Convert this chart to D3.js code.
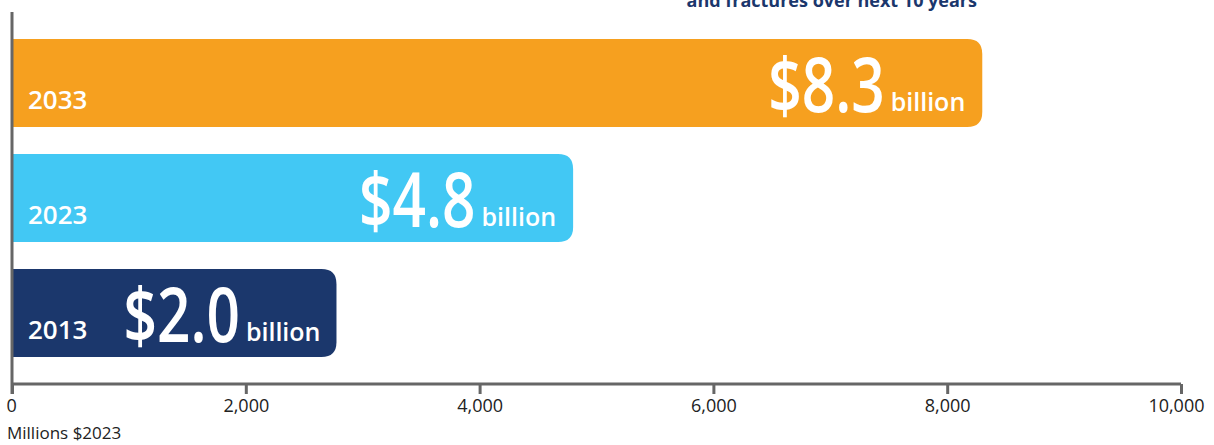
<!DOCTYPE html>
<html lang="en">
<head>
<meta charset="utf-8">
<title>Costs of osteoporosis</title>
<script src="https://cdn.jsdelivr.net/npm/d3@7/dist/d3.min.js"></script>
<style>
    html, body { margin: 0; padding: 0; background: #fff; }
    svg { display: block; font-family: "Open Sans", "Noto Sans", sans-serif; }
</style>
</head>
<body>
<svg id="chart" width="1214" height="445"></svg>
<script>
    // data
    var years = ["2033", "2023", "2013"];
    var costs = [8300, 4800, 2000];          // millions $2023
    var costLabels = ["$8.3", "$4.8", "$2.0"];
    var barColors = ["#F6A01F", "#42C8F4", "#1B376C"];
    var xTicks = [0, 2000, 4000, 6000, 8000, 10000];
    var titleLine = "and fractures over next 10 years";
    var axisTitle = "Millions $2023";

    var svg = d3.select("#chart");
    var navy = "#1B376C";

    var x = d3.scaleLinear().domain([0, 10000]).range([12, 1181]);
    var y = d3.scaleBand().domain(years).range([39, 357]).paddingInner(0.235).paddingOuter(0);

    // title (cut off at the top of the frame, as in the source)
    svg.append("text")
        .attr("x", 977).attr("y", 7)
        .attr("text-anchor", "end")
        .attr("fill", navy)
        .style("font-weight", 700)
        .style("font-size", "18px")
        .text(titleLine);

    // bar with rounded right end
    function barPath(x0, x1, y0, h, r) {
        return "M" + x0 + "," + y0 +
            "H" + (x1 - r) +
            "Q" + x1 + "," + y0 + " " + x1 + "," + (y0 + r) +
            "V" + (y0 + h - r) +
            "Q" + x1 + "," + (y0 + h) + " " + (x1 - r) + "," + (y0 + h) +
            "H" + x0 + "Z";
    }

    var squeeze = 0.77;
    var rows = svg.append("g").selectAll("g")
        .data(years)
        .enter().append("g");

    rows.each(function (yr, i) {
        var g = d3.select(this);
        var top = y(yr), h = y.bandwidth(), bottom = top + h;

        var bar = g.append("path").attr("fill", barColors[i]);

        // year label
        var yearText = g.append("text")
            .attr("x", 28).attr("y", bottom - 18)
            .attr("fill", "#fff")
            .style("font-size", "26px")
            .style("font-weight", 600)
            .text(yr);

        // big value + "billion"
        var big = g.append("text")
            .attr("fill", "#fff")
            .style("font-size", "76px")
            .style("font-weight", 600)
            .text(costLabels[i]);
        var bil = g.append("text")
            .attr("fill", "#fff")
            .style("font-size", "25px")
            .style("font-weight", 600)
            .text("billion");

        var bigW = big.node().getComputedTextLength() * squeeze;
        var bilW = bil.node().getComputedTextLength();
        var gap = 6;
        var total = bigW + gap + bilW;

        var end = x(costs[i]) - 17;
        var yearEnd = 28 + yearText.node().getComputedTextLength();
        var start = Math.max(end - total, yearEnd + 36);
        end = start + total;

        big.attr("transform", "translate(" + start + "," + (bottom - 15) + ") scale(" + squeeze + ",1)");
        bil.attr("x", start + bigW + gap).attr("y", bottom - 16);

        var barEnd = Math.max(x(costs[i]), end + 16);
        bar.attr("d", barPath(x(0) + 1, barEnd, top, h, 15));
    });

    // x axis
    var axis = svg.append("g")
        .attr("transform", "translate(0,384)")
        .call(d3.axisBottom(x).tickValues(xTicks).tickSize(10).tickPadding(5)
            .tickFormat(d3.format(",")));
    axis.select(".domain").attr("stroke", "#666").attr("stroke-width", 3)
        .attr("d", "M12,0H1181");
    axis.selectAll(".tick line").attr("stroke", "#666").attr("stroke-width", 3);
    axis.selectAll(".tick text")
        .attr("fill", "#222")
        .style("font-size", "18px")
        .style("font-family", "'Open Sans', sans-serif");
    axis.selectAll(".tick").filter(function (d) { return d === 0; }).select("text")
        .attr("text-anchor", "start").attr("x", -6);
    axis.selectAll(".tick").filter(function (d) { return d === 10000; }).select("text")
        .attr("text-anchor", "end").attr("x", 23);

    // vertical axis line
    svg.append("line")
        .attr("x1", 12).attr("x2", 12)
        .attr("y1", 12).attr("y2", 394)
        .attr("stroke", "#666").attr("stroke-width", 3);

    svg.append("text")
        .attr("x", 7).attr("y", 439)
        .attr("fill", "#222")
        .style("font-size", "17px")
        .text(axisTitle);
</script>
</body>
</html>
